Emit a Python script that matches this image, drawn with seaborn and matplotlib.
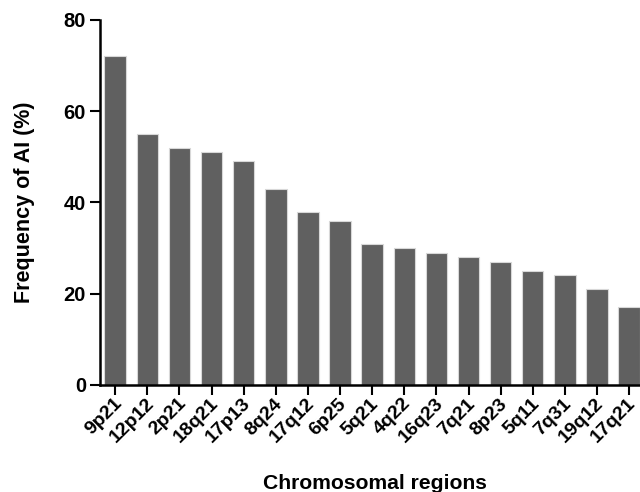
import matplotlib
matplotlib.use("Agg")
import matplotlib.pyplot as plt
import matplotlib.transforms as mtransforms
import seaborn as sns
import pandas as pd

regions = ["9p21", "12p12", "2p21", "18q21", "17p13", "8q24", "17q12", "6p25",
           "5q21", "4q22", "16q23", "7q21", "8p23", "5q11", "7q31", "19q12", "17q21"]
frequency = [72, 55, 52, 51, 49, 43, 38, 36, 31, 30, 29, 28, 27, 25, 24, 21, 17]
y_ticks = [0, 20, 40, 60, 80]

sns.set_theme(style="ticks")
plt.rcParams["font.family"] = ["Liberation Sans", "DejaVu Sans"]
plt.rcParams["font.weight"] = "bold"
plt.rcParams["text.color"] = "black"
plt.rcParams["axes.labelcolor"] = "black"
plt.rcParams["xtick.color"] = "black"
plt.rcParams["ytick.color"] = "black"

df = pd.DataFrame({"region": regions, "freq": frequency})

fig = plt.figure(figsize=(6.4, 4.92), dpi=100)
ax = fig.add_axes([0.156, 0.2175, 0.844, 0.742])

sns.barplot(data=df, x="region", y="freq", color="#606060", width=0.67,
            saturation=1, edgecolor="#d8d8d8", linewidth=0.8, ax=ax)

ax.set_ylim(0, 80)
ax.set_xlim(-0.48, 16.34)
ax.set_yticks(y_ticks)
ax.set_yticklabels([str(t) for t in y_ticks], fontsize=14.5, fontweight="bold", color="black")
sns.despine(ax=ax)
for s in ["left", "bottom"]:
    ax.spines[s].set_linewidth(1.8)
    ax.spines[s].set_color("black")
ax.tick_params(axis="y", length=7, width=1.5, color="black", pad=3)
ax.tick_params(axis="x", length=7.5, width=1.5, color="black", pad=2)

ax.set_xticks(range(len(regions)))
labels = ax.set_xticklabels(regions, rotation=45, ha="right", va="center",
                            rotation_mode="anchor", fontsize=14, fontweight="bold",
                            color="black")
offset = mtransforms.ScaledTranslation(4 / 100, -3 / 100, fig.dpi_scale_trans)
for lab in labels:
    lab.set_transform(lab.get_transform() + offset)

ax.set_xlabel("Chromosomal regions", fontsize=15.2, fontweight="bold", color="black")
ax.set_ylabel("Frequency of AI (%)", fontsize=15.5, fontweight="bold", color="black")
ax.xaxis.set_label_coords(0.509, -0.245)
ax.yaxis.set_label_coords(-0.12, 0.5)

fig.savefig("out.png", dpi=100)
